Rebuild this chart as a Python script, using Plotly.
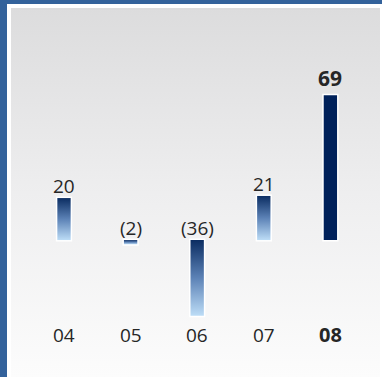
import plotly.graph_objects as go

# Yearly change figures (negatives shown in parentheses)
categories = ["04", "05", "06", "07", "08"]
values = [20, -2, -36, 21, 69]
value_labels = ["20", "(2)", "(36)", "21", "69"]
highlight = "08"

W, H = 382, 377
FONT = "'Open Sans', 'Noto Sans', sans-serif"
TEXT = "#262626"

X_RANGE = [-0.961, 4.775]
Y_RANGE = [-65.2, 114.3]

fig = go.Figure()

# ---- background layer (pixel coordinates on x/y) ----
def rect(x0, y0, x1, y1):
    # y measured from top in pixels, converted to bottom-up axis
    return [x0, x1, x1, x0, x0], [H - y0, H - y0, H - y1, H - y1, H - y0]

bx, by = rect(7, 4, W, H)
fig.add_trace(go.Scatter(x=bx, y=by, mode="lines", fill="toself",
                         fillcolor="#ffffff", line=dict(width=0),
                         hoverinfo="skip", showlegend=False,
                         xaxis="x", yaxis="y"))
px, py = rect(11, 8, W - 2, H)
fig.add_trace(go.Scatter(x=px, y=py, mode="lines", fill="toself",
                         fillgradient=dict(type="vertical",
                                           colorscale=[[0, "#fcfcfc"], [0.5, "#eeeeef"], [1, "#dcdcdd"]],
                                           start=0, stop=H - 8),
                         line=dict(width=0), hoverinfo="skip", showlegend=False,
                         xaxis="x", yaxis="y"))

# ---- bars (data coordinates on x2/y2) ----
half = 0.1                       # half bar width in category units
pad_px = 1.5                     # white rim around each bar, in pixels
pad_x = pad_px * (X_RANGE[1] - X_RANGE[0]) / W
pad_y = pad_px * (Y_RANGE[1] - Y_RANGE[0]) / H

def box(x0, x1, y0, y1):
    return [x0, x1, x1, x0, x0], [y0, y0, y1, y1, y0]

for i, (cat, v) in enumerate(zip(categories, values)):
    lo, hi = min(0, v), max(0, v)
    # white rim
    rx, ry = box(i - half - pad_x, i + half + pad_x, lo - pad_y, hi + pad_y)
    fig.add_trace(go.Scatter(x=rx, y=ry, mode="lines", fill="toself",
                             fillcolor="#ffffff", line=dict(width=0),
                             hoverinfo="skip", showlegend=False,
                             xaxis="x2", yaxis="y2"))
    # gradient body
    if cat == highlight:
        scale = [[0, "#00215a"], [1, "#00215a"]]
    else:
        scale = [[0, "#bcdcf6"], [0.5, "#5c82b6"], [1, "#0b2d62"]]
    xs, ys = box(i - half, i + half, lo, hi)
    fig.add_trace(go.Scatter(x=xs, y=ys, mode="lines", fill="toself",
                             fillgradient=dict(type="vertical", colorscale=scale,
                                               start=lo, stop=hi),
                             line=dict(width=0),
                             hoverinfo="skip", showlegend=False,
                             xaxis="x2", yaxis="y2"))

# value labels above each bar (negatives sit above the zero line)
for i, (cat, v, lab) in enumerate(zip(categories, values, value_labels)):
    bold = cat == highlight
    fig.add_annotation(x=i, y=max(0, v), xref="x2", yref="y2",
                       text=f"<b>{lab}</b>" if bold else lab,
                       showarrow=False, yanchor="middle",
                       yshift=17 if bold else 12,
                       font=dict(family=FONT, size=21 if bold else 19, color=TEXT))

# category labels along the bottom
for i, cat in enumerate(categories):
    bold = cat == highlight
    fig.add_annotation(x=i, y=-45.2, xref="x2", yref="y2",
                       text=f"<b>{cat}</b>" if bold else cat,
                       showarrow=False, yanchor="middle",
                       font=dict(family=FONT, size=20 if bold else 19, color=TEXT))

hidden = dict(visible=False, showgrid=False, zeroline=False, fixedrange=True)
fig.update_layout(
    width=W, height=H,
    margin=dict(l=0, r=0, t=0, b=0),
    paper_bgcolor="#33629b",
    plot_bgcolor="rgba(0,0,0,0)",
    xaxis=dict(range=[0, W], domain=[0, 1], **hidden),
    yaxis=dict(range=[0, H], domain=[0, 1], **hidden),
    xaxis2=dict(range=X_RANGE, overlaying="x", **hidden),
    yaxis2=dict(range=Y_RANGE, overlaying="y", **hidden),
    showlegend=False,
)

fig.write_html("out.html")
